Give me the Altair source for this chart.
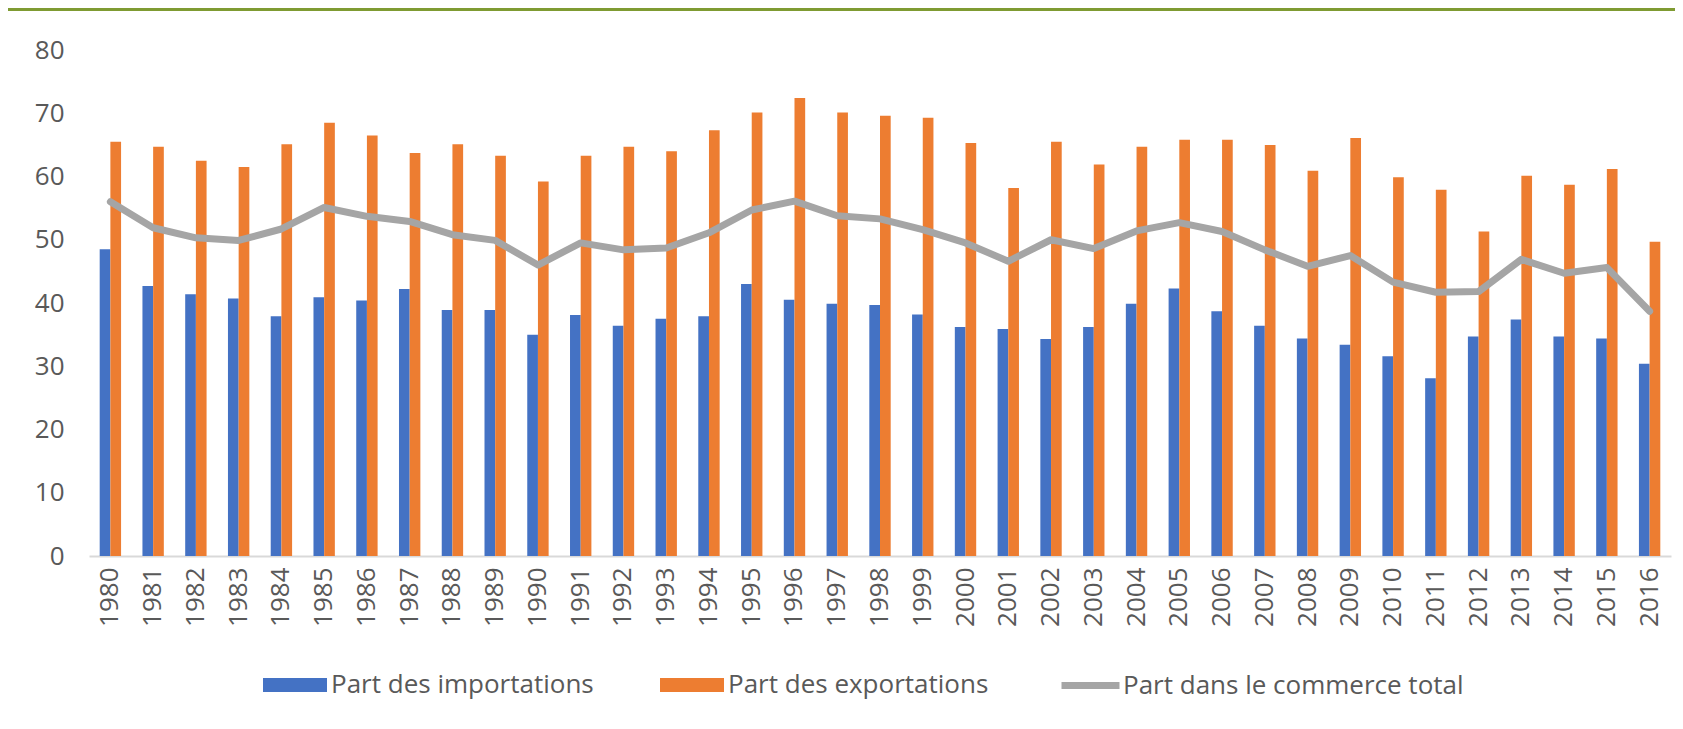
import altair as alt
import pandas as pd

years = [str(y) for y in range(1980, 2017)]

imports = [48.5, 42.7, 41.4, 40.7, 37.9, 40.9, 40.4, 42.2, 38.9, 38.9,
           35.0, 38.1, 36.4, 37.5, 37.9, 43.0, 40.5, 39.9, 39.7, 38.2,
           36.2, 35.9, 34.3, 36.2, 39.9, 42.3, 38.7, 36.4, 34.4, 33.4,
           31.6, 28.1, 34.7, 37.4, 34.7, 34.4, 30.4]

exports = [65.5, 64.7, 62.5, 61.5, 65.1, 68.5, 66.5, 63.7, 65.1, 63.3,
           59.2, 63.3, 64.7, 64.0, 67.3, 70.1, 72.4, 70.1, 69.6, 69.3,
           65.3, 58.2, 65.5, 61.9, 64.7, 65.8, 65.8, 65.0, 60.9, 66.1,
           59.9, 57.9, 51.3, 60.1, 58.7, 61.2, 49.7]

total = [56.0, 51.9, 50.3, 49.9, 51.7, 55.1, 53.7, 52.9, 50.8, 49.9,
         46.0, 49.5, 48.4, 48.7, 51.1, 54.7, 56.1, 53.8, 53.3, 51.6,
         49.5, 46.6, 50.0, 48.6, 51.4, 52.7, 51.3, 48.4, 45.8, 47.5,
         43.3, 41.7, 41.8, 46.9, 44.7, 45.6, 38.7]

IMP = "Part des importations"
EXP = "Part des exportations"
TOT = "Part dans le commerce total"

BLUE = "#4472C4"
ORANGE = "#ED7D31"
GRAY = "#A5A5A5"
GREEN = "#7F9B32"
TXT = "#595959"
FONT = "Open Sans"
FS = 26

imp_df = pd.DataFrame({"year": years, "series": IMP, "value": imports})
exp_df = pd.DataFrame({"year": years, "series": EXP, "value": exports})
tot_df = pd.DataFrame({"year": years, "series": TOT, "value": total})

W, H = 1582, 506
PL, PT, PR, PB = 81, 42, 4, 165

x_enc = alt.X(
    "year:N", sort=years, title=None,
    scale=alt.Scale(paddingInner=0.5, paddingOuter=0.25),
    axis=alt.Axis(labelAngle=270, ticks=False, domainColor="#D9D9D9", domainWidth=2,
                  labelPadding=11, labelFontSize=FS, labelColor=TXT, labelFont=FONT,
                  grid=False),
)
y_enc = alt.Y(
    "value:Q", title=None,
    scale=alt.Scale(domain=[0, 80], nice=False),
    axis=alt.Axis(values=list(range(0, 81, 10)), domain=False, ticks=False, grid=False,
                  labelPadding=25, labelFontSize=FS, labelColor=TXT, labelFont=FONT),
)
xoff = alt.XOffset("series:N", scale=alt.Scale(domain=[IMP, EXP]))

rect_path = "M-1,-0.22H1V0.22H-1Z"


def leg(x, y, sym, size=4096, sw=0, off=4):
    return alt.Legend(orient="none", legendX=x, legendY=y, title=None,
                      symbolType=sym, symbolSize=size, symbolStrokeWidth=sw,
                      labelFontSize=FS, labelColor=TXT, labelFont=FONT, labelOffset=off,
                      labelLimit=0, padding=0)


bars_imp = alt.Chart(imp_df).mark_bar().encode(
    x=x_enc, y=y_enc, xOffset=xoff,
    color=alt.Color("series:N", scale=alt.Scale(domain=[IMP], range=[BLUE]),
                    legend=leg(174, 603, rect_path)),
)
bars_exp = alt.Chart(exp_df).mark_bar().encode(
    x=x_enc, y=y_enc, xOffset=xoff,
    fill=alt.Fill("series:N", scale=alt.Scale(domain=[EXP], range=[ORANGE]),
                  legend=leg(571, 603, rect_path)),
)
line = alt.Chart(tot_df).mark_line(strokeWidth=7, strokeCap="round", strokeJoin="round").encode(
    x=x_enc, y=y_enc,
    stroke=alt.Stroke("series:N", scale=alt.Scale(domain=[TOT], range=[GRAY]),
                      legend=leg(969, 603, "stroke", size=3364, sw=7, off=0)),
)
top_rule = alt.Chart(pd.DataFrame({"a": [0]})).mark_rule(color=GREEN, strokeWidth=3).encode(
    x=alt.value(-PL), x2=alt.value(W + PR), y=alt.value(-PT + 1.5)
)

chart = alt.layer(bars_imp, bars_exp, line, top_rule).properties(
    width=W, height=H,
    autosize=alt.AutoSizeParams(type="none"),
    padding={"left": PL, "top": PT, "right": PR, "bottom": PB},
).configure_view(stroke=None)

chart.save("out.html", embed_options={"renderer": "svg", "actions": False})
